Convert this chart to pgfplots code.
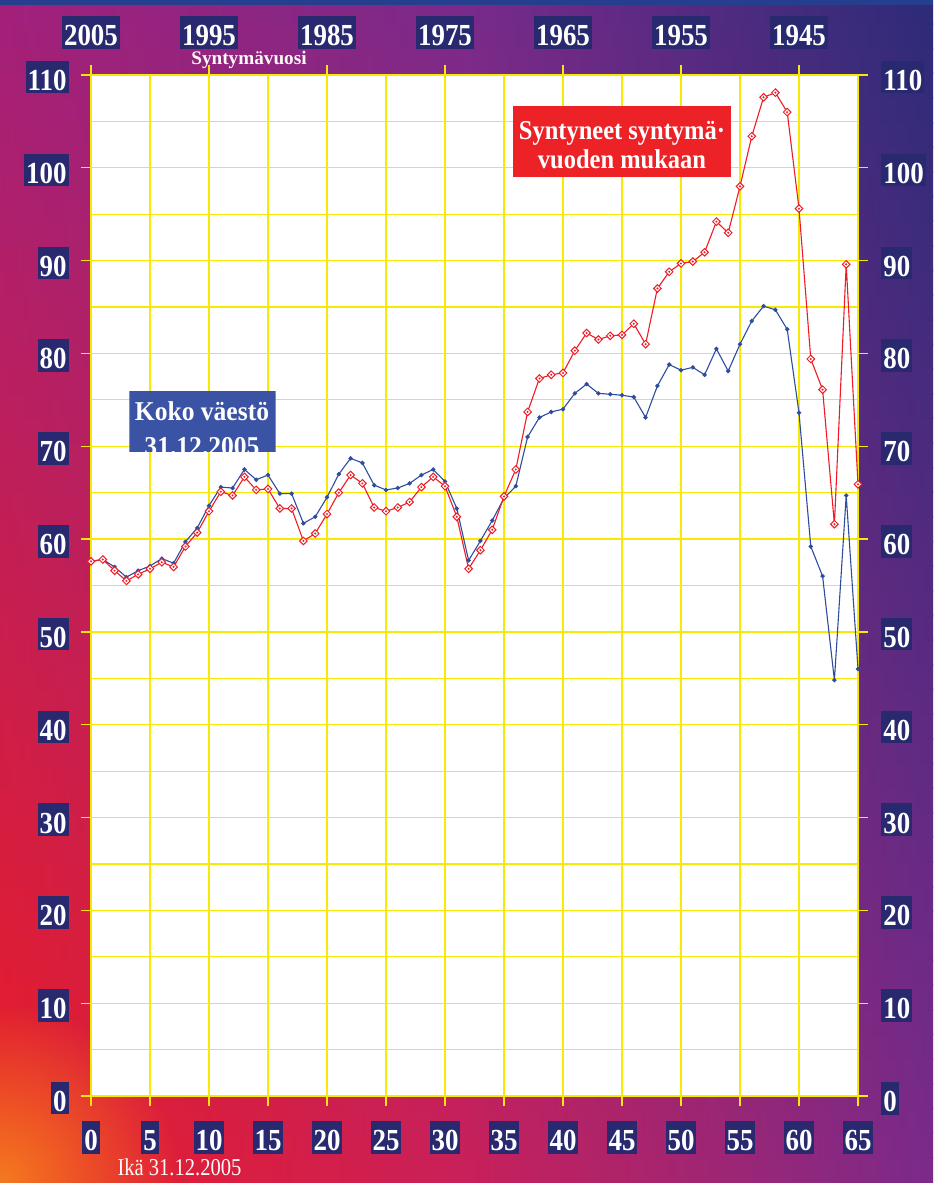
\documentclass[border=0pt]{standalone}
\usepackage{fontspec}
\setmainfont{Liberation Serif}
\newfontfamily\tickf{Liberation Serif}[FakeStretch=0.88]
\newfontfamily\boxf{Liberation Serif}[FakeStretch=0.9]
\newfontfamily\boxfb{Liberation Serif}[FakeStretch=0.94]
\newfontfamily\ikaf{Liberation Serif}[FakeStretch=0.85]
\usepackage{pgfplots}
\pgfplotsset{compat=1.18}
\usetikzlibrary{fadings}
\definecolor{navy}{HTML}{29296F}
\definecolor{gridy}{HTML}{F7EA00}
\definecolor{myred}{HTML}{EE1C25}
\definecolor{myblue}{HTML}{2F4D9E}
\definecolor{boxblue}{HTML}{3A53A4}
\definecolor{boxred}{HTML}{EC2227}
\definecolor{bgR}{HTML}{EB1C26}
\definecolor{bgC}{HTML}{C8205A}
\definecolor{bgP}{HTML}{7A2A8A}
\definecolor{bgM}{HTML}{A3207A}
\definecolor{bgCT}{HTML}{7A2A8A}
\definecolor{bgB}{HTML}{2D2B78}
\definecolor{bgO}{HTML}{F47B20}
\definecolor{topbar}{HTML}{253F8E}
\tikzfading[name=glowfade, inner color=transparent!0, outer color=transparent!100]
\pgfdeclareplotmark{dmd}{%
  \pgfsetfillcolor{white}%
  \pgfpathmoveto{\pgfqpoint{0pt}{\pgfplotmarksize}}%
  \pgfpathlineto{\pgfqpoint{\pgfplotmarksize}{0pt}}%
  \pgfpathlineto{\pgfqpoint{0pt}{-\pgfplotmarksize}}%
  \pgfpathlineto{\pgfqpoint{-\pgfplotmarksize}{0pt}}%
  \pgfpathclose\pgfusepathqfillstroke
  \pgfsetfillcolor{myred}%
  \pgfpathcircle{\pgfpointorigin}{0.3\pgfplotmarksize}\pgfusepathqfill}
\pgfplotstableread{
age red blue
0 57.6 57.6
1 57.8 57.8
2 56.6 57.0
3 55.5 55.9
4 56.2 56.6
5 56.8 57.1
6 57.5 57.9
7 57.0 57.4
8 59.2 59.7
9 60.7 61.2
10 63.0 63.6
11 65.1 65.6
12 64.7 65.5
13 66.7 67.5
14 65.3 66.4
15 65.4 66.9
16 63.3 64.9
17 63.3 64.9
18 59.8 61.7
19 60.6 62.4
20 62.7 64.5
21 65.0 67.0
22 66.9 68.7
23 66.0 68.2
24 63.4 65.8
25 63.0 65.3
26 63.4 65.5
27 64.0 66.0
28 65.6 66.9
29 66.7 67.5
30 65.7 66.2
31 62.4 63.3
32 56.8 57.7
33 58.8 59.8
34 61.0 62.0
35 64.6 64.4
36 67.5 65.7
37 73.7 71.0
38 77.3 73.1
39 77.7 73.7
40 77.9 74.0
41 80.3 75.7
42 82.2 76.7
43 81.5 75.7
44 81.9 75.6
45 82.0 75.5
46 83.2 75.3
47 81.0 73.1
48 87.0 76.5
49 88.8 78.8
50 89.7 78.2
51 89.9 78.5
52 90.9 77.7
53 94.2 80.5
54 93.0 78.1
55 98.0 81.0
56 103.4 83.5
57 107.6 85.1
58 108.1 84.7
59 106.0 82.6
60 95.6 73.6
61 79.4 59.2
62 76.1 56.0
63 61.6 44.8
64 89.6 64.7
65 65.9 46.0
}\datatable
\begin{document}
\begin{tikzpicture}
\useasboundingbox (0,0) rectangle (466.5pt,591.5pt);
% background
\foreach \i in {0,...,47} {
  \pgfmathsetmacro\t{100*\i/47}
  \pgfmathsetmacro\ya{\i*12.32292}
  \pgfmathsetmacro\yb{(\i+1)*12.32292+0.6}
  \shade[left color=bgM!\t!bgR, right color=bgB!\t!bgP, middle color=bgCT!\t!bgC]
    (0pt,\ya pt) rectangle (466.5pt,\yb pt);
}
\fill[bgO, path fading=glowfade] (0pt,0pt) circle (90pt);
\fill[topbar] (0pt,589pt) rectangle (466.5pt,591.5pt);
% main axis
\begin{axis}[
  at={(45.5pt,43.5pt)}, anchor=south west,
  scale only axis, width=383.5pt, height=510.5pt,
  xmin=0, xmax=65, ymin=0, ymax=110,
  xtick={0,5,...,65}, ytick={0,10,...,110}, minor ytick={5,15,...,105},
  xtick pos=lower, ytick pos=lower,
  tick align=outside, major tick length=5pt, minor tick length=0pt,
  xmajorgrids, ymajorgrids, yminorgrids,
  grid style={gridy, line width=0.6pt},
  minor grid style={gridy, line width=0.6pt},
  axis line style={gridy, line width=1.2pt},
  major tick style={gridy, line width=0.6pt},
  axis background/.style={fill=white},
  /pgf/number format/assume math mode=true,
  ticklabel style={font=\tickf\bfseries\fontsize{15.3}{18}\selectfont, fill=navy, text=white, inner xsep=1pt, inner ysep=0pt, text height=14.8pt, text depth=1.5pt},
  xticklabel style={anchor=north, yshift=-7.5pt},
  yticklabel style={anchor=east, xshift=-6pt, yshift=-1.1pt},
  clip=false,
]
\addplot[myblue, line width=0.55pt, mark=*, mark size=0.8pt] table[x=age, y=blue] {\datatable};
\addplot[myred, line width=0.55pt, mark=dmd, mark size=1.9pt, mark options={line width=0.5pt}] table[x=age, y=red] {\datatable};
\end{axis}
% top / right labels
\begin{axis}[
  at={(45.5pt,43.5pt)}, anchor=south west,
  scale only axis, width=383.5pt, height=510.5pt,
  xmin=0, xmax=65, ymin=0, ymax=110,
  xtick={0,10,...,60}, xticklabels={2005,1995,1985,1975,1965,1955,1945},
  ytick={0,10,...,110},
  xtick pos=upper, xticklabel pos=upper, ytick pos=upper, yticklabel pos=upper,
  tick align=outside, major tick length=5pt, minor tick length=0pt,
  axis line style={draw=none},
  major tick style={gridy, line width=0.6pt},
  /pgf/number format/assume math mode=true,
  ticklabel style={font=\tickf\bfseries\fontsize{15.3}{18}\selectfont, fill=navy, text=white, inner xsep=1pt, inner ysep=0pt, text height=14.8pt, text depth=1.5pt},
  xticklabel style={anchor=south, yshift=7.8pt},
  yticklabel style={anchor=west, xshift=6.5pt, yshift=-1.1pt},
]
\addplot[draw=none] coordinates {(0,0)};
\end{axis}
% annotation boxes
\begin{scope}
\clip (64.65pt,365.35pt) rectangle (137.85pt,396pt);
\fill[boxblue] (64.65pt,365.35pt) rectangle (137.85pt,396pt);
\node[anchor=base, text=white, font=\boxfb\bfseries\fontsize{13.6}{16}\selectfont, inner sep=0pt] at (101pt,381.15pt) {Koko väestö};
\node[anchor=base, text=white, font=\boxfb\bfseries\fontsize{13.6}{16}\selectfont, inner sep=0pt] at (101pt,363.5pt) {31.12.2005};
\end{scope}
\fill[boxred] (256.35pt,502.85pt) rectangle (365.35pt,538.5pt);
\node[anchor=base, text=white, font=\boxf\bfseries\fontsize{13.6}{16}\selectfont, inner sep=0pt] at (311pt,521.85pt) {Syntyneet syntymä·};
\node[anchor=base, text=white, font=\boxf\bfseries\fontsize{13.6}{16}\selectfont, inner sep=0pt] at (311pt,507pt) {vuoden mukaan};
\node[anchor=base, text=white!90!pink, font=\bfseries\fontsize{9.6}{12}\selectfont, inner sep=0pt] at (124.5pt,559.3pt) {Syntymävuosi};
\node[anchor=base, text=white!92!pink, font=\ikaf\fontsize{12.1}{14}\selectfont, inner sep=0pt] at (89.75pt,3.8pt) {Ikä 31.12.2005};
\end{tikzpicture}
\end{document}
